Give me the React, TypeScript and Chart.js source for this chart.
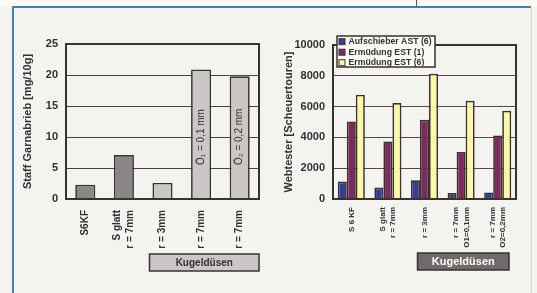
import React, { useEffect, useRef } from 'react';
import { Chart, registerables } from 'chart.js';
Chart.register(...registerables);

const FONT = '"Liberation Sans", Arial, sans-serif';

// ---- left chart data ----
const leftCategories = [['S6KF'], ['S glatt', 'r = 7mm'], ['r = 3mm'], ['r = 7mm'], ['r = 7mm']];
const leftValues = [2.3, 7.1, 2.6, 20.9, 19.8];
const leftBarNotes = ['', '', '', 'Ö₁ = 0,1 mm', 'Ö₂ = 0,2 mm'];
const leftColors = ['#8b8787', '#8b8787', '#cbc7c6', '#cbc7c6', '#cbc7c6'];
const leftYTitle = 'Staff Garnabrieb [mg/10g]';
const groupLabel = 'Kugeldüsen';

// ---- right chart data ----
const rightCategories = [['S 6 KF'], ['S glatt', 'r = 7mm'], ['r = 3mm'], ['r = 7mm', 'O1=0,1mm'], ['r = 7mm', 'O2=0,2mm']];
const seriesNames = ['Aufschieber AST (6)', 'Ermüdung EST (1)', 'Ermüdung EST (6)'];
const aufschieberAST6 = [1140, 750, 1210, 390, 430];
const ermuedungEST1 = [5040, 3740, 5150, 3050, 4130];
const ermuedungEST6 = [6770, 6230, 8140, 6380, 5730];
const seriesColors = ['#33409a', '#7a2c5c', '#fbf9a6'];
const rightYTitle = 'Webtester [Scheuertouren]';

const TEXT = '#333030';
const EDGE = '#3b3131';

const framePlugin = {
  id: 'frame',
  afterDatasetsDraw(chart: any) {
    const { ctx, chartArea: a } = chart;
    ctx.save();
    ctx.strokeStyle = EDGE;
    ctx.lineWidth = 2;
    ctx.strokeRect(a.left, a.top, a.right - a.left, a.bottom - a.top);
    ctx.restore();
  },
};

const rotatedLabels = (font: string, lineH: number, pad: number) => ({
  id: 'rotLabels',
  afterDraw(chart: any) {
    const { ctx, chartArea: a } = chart;
    const xs = chart.scales.x;
    ctx.save();
    ctx.font = font;
    ctx.fillStyle = TEXT;
    ctx.textAlign = 'right';
    ctx.textBaseline = 'middle';
    (chart.data.labels as any[]).forEach((lab, i) => {
      const lines = Array.isArray(lab) ? lab : [lab];
      const px = xs.getPixelForValue(i);
      lines.forEach((ln: string, j: number) => {
        ctx.save();
        ctx.translate(px + (j - (lines.length - 1) / 2) * lineH, a.bottom + pad);
        ctx.rotate(-Math.PI / 2);
        ctx.fillText(ln, 0, 0);
        ctx.restore();
      });
    });
    ctx.restore();
  },
});

const groupBox = (o: { from: number; dx0: number; dx1: number; top: number; h: number; fill: string; color: string; font: string }) => ({
  id: 'groupBox',
  afterDraw(chart: any) {
    const { ctx, chartArea: a } = chart;
    const xs = chart.scales.x;
    const x0 = xs.getPixelForValue(o.from) + o.dx0;
    const x1 = a.right + o.dx1;
    ctx.save();
    ctx.fillStyle = o.fill;
    ctx.fillRect(x0, o.top, x1 - x0, o.h);
    ctx.strokeStyle = EDGE;
    ctx.lineWidth = 1.5;
    ctx.strokeRect(x0, o.top, x1 - x0, o.h);
    ctx.fillStyle = o.color;
    ctx.font = o.font;
    ctx.textAlign = 'center';
    ctx.textBaseline = 'middle';
    ctx.fillText(groupLabel, (x0 + x1) / 2, o.top + o.h / 2 + 0.5);
    ctx.restore();
  },
});

const barNotesPlugin = {
  id: 'barNotes',
  afterDatasetsDraw(chart: any) {
    const { ctx, chartArea: a } = chart;
    const meta = chart.getDatasetMeta(0);
    ctx.save();
    ctx.font = `10px ${FONT}`;
    ctx.fillStyle = TEXT;
    ctx.textAlign = 'left';
    ctx.textBaseline = 'middle';
    leftBarNotes.forEach((t, i) => {
      if (!t) return;
      const el = meta.data[i];
      ctx.save();
      ctx.translate(el.x, a.bottom - 34);
      ctx.rotate(-Math.PI / 2);
      ctx.fillText(t, 0, 0);
      ctx.restore();
    });
    ctx.restore();
  },
};

const boxLegend = {
  id: 'boxLegend',
  afterDraw(chart: any) {
    const { ctx, chartArea: a } = chart;
    const x = a.left + 4, y = a.top - 9, w = 98, h = 31;
    ctx.save();
    ctx.fillStyle = '#fbfbf6';
    ctx.fillRect(x, y, w, h);
    ctx.strokeStyle = EDGE;
    ctx.lineWidth = 1.5;
    ctx.strokeRect(x, y, w, h);
    ctx.font = `bold 8.7px ${FONT}`;
    ctx.textAlign = 'left';
    ctx.textBaseline = 'middle';
    chart.data.datasets.forEach((ds: any, i: number) => {
      const cy = y + 5.7 + i * 10.5;
      ctx.fillStyle = ds.backgroundColor;
      ctx.fillRect(x + 2, cy - 3, 6, 6);
      ctx.lineWidth = 1;
      ctx.strokeRect(x + 2, cy - 3, 6, 6);
      ctx.fillStyle = TEXT;
      ctx.fillText(ds.label, x + 11.5, cy);
    });
    ctx.restore();
  },
};

function LeftChart() {
  const ref = useRef<HTMLCanvasElement>(null);
  useEffect(() => {
    const chart = new Chart(ref.current!, {
      type: 'bar',
      data: {
        labels: leftCategories as any,
        datasets: [{
          data: leftValues,
          backgroundColor: leftColors,
          borderColor: EDGE,
          borderWidth: 1.7,
          categoryPercentage: 1,
          barPercentage: 0.52,
        }],
      },
      options: {
        responsive: false,
        animation: false,
        layout: { padding: { top: 44, right: 9, left: 0, bottom: 0 } },
        plugins: { legend: { display: false }, tooltip: { enabled: false } },
        scales: {
          x: {
            grid: { display: false },
            border: { display: false },
            ticks: { display: false },
            afterFit: (s: any) => { s.height = 94; },
          },
          y: {
            min: 0, max: 25,
            ticks: { stepSize: 5, padding: 8, color: TEXT, font: { family: FONT, size: 11, weight: 'bold' } },
            grid: { color: '#4a4242', drawTicks: false, lineWidth: 1 },
            border: { display: false },
            title: { display: true, text: leftYTitle, color: TEXT, font: { family: FONT, size: 11, weight: 'bold', lineHeight: 1 }, padding: { top: 22.5, bottom: 0 } },
            afterFit: (s: any) => { s.width = 66; },
          },
        },
      } as any,
      plugins: [
        framePlugin,
        barNotesPlugin,
        rotatedLabels(`bold 10px ${FONT}`, 13, 11),
        groupBox({ from: 2, dx0: -13, dx1: 0, top: 254, h: 17, fill: '#cbc7c6', color: TEXT, font: `bold 10px ${FONT}` }),
      ],
    });
    return () => chart.destroy();
  }, []);
  return <canvas ref={ref} width={268} height={293} style={{ position: 'absolute', left: 0, top: 0, width: 268, height: 293 }} />;
}

function RightChart() {
  const ref = useRef<HTMLCanvasElement>(null);
  useEffect(() => {
    const series = [aufschieberAST6, ermuedungEST1, ermuedungEST6];
    const chart = new Chart(ref.current!, {
      type: 'bar',
      data: {
        labels: rightCategories as any,
        datasets: series.map((d, i) => ({
          label: seriesNames[i],
          data: d,
          backgroundColor: seriesColors[i],
          borderColor: EDGE,
          borderWidth: 1.7,
          categoryPercentage: 0.74,
          barPercentage: 1,
        })),
      },
      options: {
        responsive: false,
        animation: false,
        layout: { padding: { top: 45, right: 21, left: 0, bottom: 0 } },
        plugins: { legend: { display: false }, tooltip: { enabled: false } },
        scales: {
          x: {
            grid: { display: false },
            border: { display: false },
            ticks: { display: false },
            afterFit: (s: any) => { s.height = 94; },
          },
          y: {
            min: 0, max: 10000,
            ticks: {
              stepSize: 1000, padding: 8, color: TEXT,
              font: { family: FONT, size: 11, weight: 'bold' },
              callback: (v: any) => (Number(v) % 2000 === 0 ? String(v) : ''),
            },
            grid: {
              color: (c: any) => (c.tick && c.tick.value % 2000 !== 0 ? '#a88e94' : '#5b4549'),
              drawTicks: false, lineWidth: 1,
            },
            border: { display: false, dash: (c: any) => (c.tick && c.tick.value % 2000 !== 0 ? [5, 2] : []) },
            title: { display: true, text: rightYTitle, color: TEXT, font: { family: FONT, size: 11, weight: 'bold', lineHeight: 1 }, padding: { top: 15.5, bottom: 0 } },
            afterFit: (s: any) => { s.width = 65; },
          },
        },
      } as any,
      plugins: [
        framePlugin,
        boxLegend,
        rotatedLabels(`bold 8px ${FONT}`, 10.5, 8),
        groupBox({ from: 2, dx0: -7, dx1: -7, top: 253, h: 17, fill: '#6f6b6b', color: '#ffffff', font: `bold 11px ${FONT}` }),
      ],
    });
    return () => chart.destroy();
  }, []);
  return <canvas ref={ref} width={269} height={293} style={{ position: 'absolute', left: 268, top: 0, width: 269, height: 293 }} />;
}

export default function App() {
  return (
    <div style={{ position: 'fixed', left: 0, top: 0, width: 537, height: 293, background: '#f3f4ef', overflow: 'hidden' }}>
      <div style={{ position: 'absolute', left: 0, top: 0, width: 537, height: 6, background: '#fafaf7' }} />
      <div style={{ position: 'absolute', left: 12, top: 6, width: 519, height: 2, background: '#4d7eab' }} />
      <div style={{ position: 'absolute', left: 12, top: 6, width: 2, height: 287, background: '#4d7eab' }} />
      <div style={{ position: 'absolute', left: 416, top: 0, width: 1, height: 6, background: '#555' }} />
      <div style={{ position: 'absolute', left: 531, top: 8, width: 1, height: 285, background: '#d6d6ce' }} />
      <LeftChart />
      <RightChart />
    </div>
  );
}
